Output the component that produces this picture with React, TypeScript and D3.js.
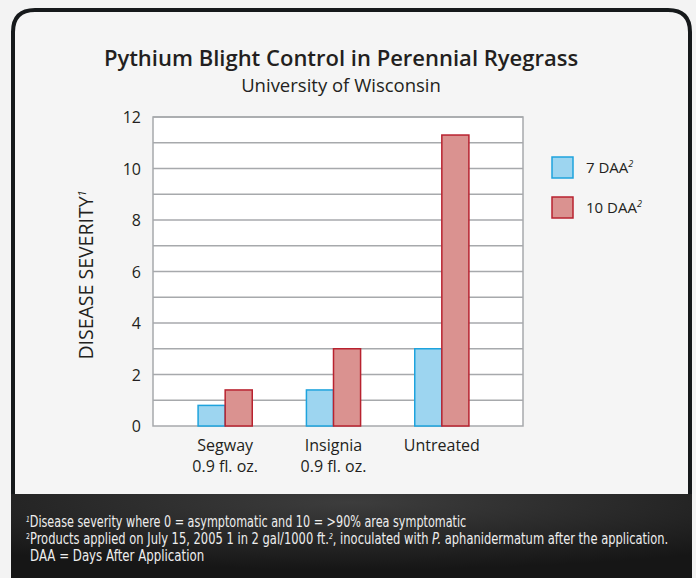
import React, { useEffect, useRef } from 'react';
import * as d3 from 'd3';

const categories = ['Segway', 'Insignia', 'Untreated'];
const categorySubLabels = ['0.9 fl. oz.', '0.9 fl. oz.', ''];
const seriesNames = ['7 DAA', '10 DAA'];
const daa7 = [0.8, 1.4, 3.0];
const daa10 = [1.4, 3.0, 11.3];
const yTicks = [0, 2, 4, 6, 8, 10, 12];
const gridLines = [1, 2, 3, 4, 5, 6, 7, 8, 9, 10, 11, 12];
const footnotes = [
  'Disease severity where 0 = asymptomatic and 10 = >90% area symptomatic',
  'Products applied on July 15, 2005 1 in 2 gal/1000 ft.',
  'DAA = Days After Application',
];

const W = 696;
const H = 578;
const plot = { left: 153, right: 523, top: 117, bottom: 426 };
const fills = ['#9dd5f0', '#da9290'];
const strokes = ['#1ea3dd', '#b8222f'];
const font = '"Open Sans", "Noto Sans", sans-serif';
const narrow = '"DejaVu Sans", sans-serif';

// footnote rows: left x, baseline y, width in the reference
const fnPos = [
  [26, 527, 440],
  [26, 544, 642],
  [30, 561, 174],
];

export default function App() {
  const ref = useRef<SVGSVGElement>(null);
  const y = d3.scaleLinear().domain([0, 12]).range([plot.bottom, plot.top]);
  const x = d3.scaleBand().domain(categories).range([171, 496]).paddingInner(0.5).paddingOuter(0.25);
  const xs = d3.scaleBand().domain(seriesNames).range([0, x.bandwidth()]);
  const series = [daa7, daa10];

  useEffect(() => {
    // squeeze footnotes horizontally to the condensed width of the original
    d3.select(ref.current)
      .selectAll<SVGTextElement, unknown>('text.fn')
      .each(function (_, i) {
        const [fx, fy, fw] = fnPos[i];
        const w = this.getBBox().width || fw;
        d3.select(this).attr('transform', `translate(${fx},${fy}) scale(${fw / w},1)`);
      });
  }, []);

  return (
    <svg ref={ref} width={W} height={H} style={{ position: 'absolute', left: 0, top: 0 }}>
      <defs>
        <radialGradient id="foot" cx="0.5" cy="0.1" r="0.8">
          <stop offset="0" stopColor="#3d3d3d" />
          <stop offset="1" stopColor="#161616" />
        </radialGradient>
      </defs>
      <rect width={W} height={H} fill="#f3f3f3" />
      <path
        d={`M13,578 L13,32 Q13,10 35,10 L668,10 Q690,10 690,32 L690,578`}
        fill="#f5f5f5"
        stroke="#16191b"
        strokeWidth={4}
      />
      <rect x={11} y={494} width={681} height={84} fill="url(#foot)" />

      <text x={341} y={66} textAnchor="middle" fontFamily={font} fontWeight={600} fontSize={22} fill="#231f20">
        Pythium Blight Control in Perennial Ryegrass
      </text>
      <text x={341} y={92} textAnchor="middle" fontFamily={font} fontSize={18.5} fill="#231f20">
        University of Wisconsin
      </text>

      <rect x={plot.left} y={plot.top} width={plot.right - plot.left} height={plot.bottom - plot.top} fill="#fff" />
      {gridLines.map((g) => (
        <line key={g} x1={plot.left} x2={plot.right} y1={y(g)} y2={y(g)} stroke="#a7a9ac" strokeWidth={1.5} />
      ))}
      <rect
        x={plot.left}
        y={plot.top}
        width={plot.right - plot.left}
        height={plot.bottom - plot.top}
        fill="none"
        stroke="#a7a9ac"
        strokeWidth={1.5}
      />

      {categories.map((c, i) =>
        series.map((s, j) => (
          <rect
            key={c + j}
            x={(x(c) as number) + (xs(seriesNames[j]) as number)}
            y={y(s[i])}
            width={xs.bandwidth()}
            height={y(0) - y(s[i])}
            fill={fills[j]}
            stroke={strokes[j]}
            strokeWidth={1.5}
          />
        ))
      )}

      {yTicks.map((t) => (
        <text key={t} x={141} y={y(t) + 6} textAnchor="end" fontFamily={font} fontSize={16} fill="#231f20">
          {t}
        </text>
      ))}

      <text
        transform={`translate(93,275) rotate(-90)`}
        textAnchor="middle"
        fontFamily={font}
        fontSize={19.5}
        fill="#231f20"
      >
        DISEASE SEVERITY
        <tspan fontSize={11} dy={-7} fontStyle="italic">1</tspan>
      </text>

      {categories.map((c, i) => {
        const cx = (x(c) as number) + x.bandwidth() / 2;
        return (
          <g key={c} fontFamily={font} fontSize={16} fill="#231f20" textAnchor="middle">
            <text x={cx} y={451}>{c}</text>
            {categorySubLabels[i] && <text x={cx} y={472}>{categorySubLabels[i]}</text>}
          </g>
        );
      })}

      {seriesNames.map((n, j) => (
        <g key={n} transform={`translate(552,${157 + j * 40})`}>
          <rect width={21} height={21} fill={fills[j]} stroke={strokes[j]} strokeWidth={1.5} />
          <text x={34} y={16} fontFamily={font} fontSize={15} fill="#231f20">
            {n}
            <tspan fontSize={9} dy={-6} fontStyle="italic">2</tspan>
          </text>
        </g>
      ))}

      <g fontFamily={narrow} fontSize={15} fill="#eeeeee">
        <text className="fn" transform={`translate(${fnPos[0][0]},${fnPos[0][1]}) scale(0.78,1)`}>
          <tspan fontSize={8} dy={-5} fontStyle="italic">1</tspan>
          <tspan dy={5}>{footnotes[0]}</tspan>
        </text>
        <text className="fn" transform={`translate(${fnPos[1][0]},${fnPos[1][1]}) scale(0.78,1)`}>
          <tspan fontSize={8} dy={-5}>2</tspan>
          <tspan dy={5}>{footnotes[1]}</tspan>
          <tspan fontSize={8} dy={-5} fontStyle="italic">2</tspan>
          <tspan dy={5}>, inoculated with </tspan>
          <tspan fontStyle="italic">P.</tspan>
          <tspan> aphanidermatum after the application.</tspan>
        </text>
        <text className="fn" transform={`translate(${fnPos[2][0]},${fnPos[2][1]}) scale(0.78,1)`}>
          {footnotes[2]}
        </text>
      </g>
    </svg>
  );
}
